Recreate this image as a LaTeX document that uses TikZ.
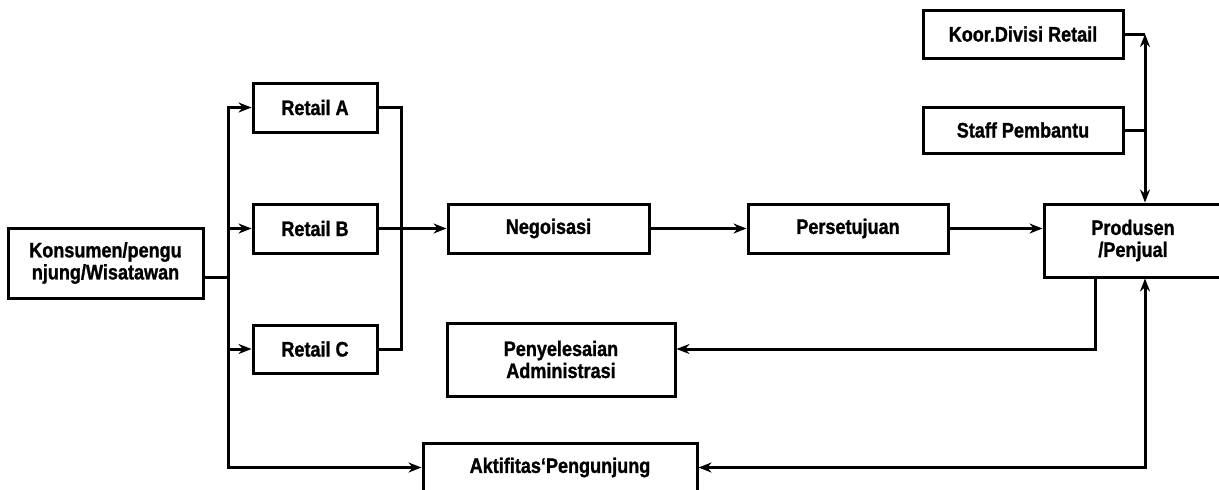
\documentclass[tikz,border=0pt]{standalone}
\usepackage{fontspec}
\setmainfont[FakeStretch=0.86,BoldFeatures={FakeBold=1.2}]{Liberation Sans}
\usetikzlibrary{arrows.meta,positioning,calc}
\tikzset{>={Stealth[length=13pt,width=10pt]},box/.style={draw,line width=3pt,
 fill=white,align=center,inner sep=0pt,font=\fontsize{21}{22}\selectfont\bfseries},
 wire/.style={line width=3pt}}
\begin{document}
\begin{tikzpicture}[x=1pt,y=-1pt]
\useasboundingbox (0,0) rectangle (1219,490);
\node[box,minimum width=195,minimum height=70] (kons) at (105.5,263) {Konsumen/pengu\\njung/Wisatawan};
\foreach \n/\y/\h in {A/107.5/49,B/228.5/49,C/349/48}
 {\node[box,minimum width=124,minimum height=\h] (ret\n) at (315,\y) {Retail \n};}
\node[box,minimum width=201,minimum height=49] (nego) at (548.5,228.5) {Negoisasi};
\node[box,minimum width=200,minimum height=49] (pers) at (848,228.5) {Persetujuan};
\node[box,minimum width=178,minimum height=73] (prod) at (1133,240.5) {Produsen\\/Penjual};
\node[box,minimum width=200,minimum height=48] (koor) at (1023,34) {Koor.Divisi Retail};
\node[box,minimum width=200,minimum height=46] (staff) at (1023,130) {Staff Pembantu};
\node[box,minimum width=228,minimum height=73] (peny) at (561,359.5) {Penyelesaian\\Administrasi};
\node[box,minimum width=274,minimum height=49] (akt) at (560,467.5) {Aktifitas`Pengunjung};
\coordinate (busL) at (228,277);
\coordinate (busR) at (401,228.5);
\coordinate (rail) at (1145,34);
\coordinate (adm) at (1095,349);
\draw[wire] ([yshift=-14pt]kons.east) -- (busL);
\foreach \n in {A,B,C} \draw[wire,->] (busL) |- (ret\n);
\draw[wire,->] (busL) |- (akt);
\draw[wire] (retA) -| (busR);
\draw[wire] (retC) -| (busR);
\draw[wire,->] (retB) -- (nego);
\draw[wire,->] (nego) -- (pers);
\draw[wire,->] (pers.east) -- (pers.east -| prod.west);
\draw[wire] (koor.east) -- (rail);
\draw[wire] (staff.east) -- (staff.east -| rail);
\draw[wire,<->] (rail) -- (rail |- prod.north);
\draw[wire,->] (prod.south -| adm) -- (adm) -- (adm -| peny.east);
\draw[wire,<->] (akt.east) -| (prod.south -| rail);
\end{tikzpicture}
\end{document}
